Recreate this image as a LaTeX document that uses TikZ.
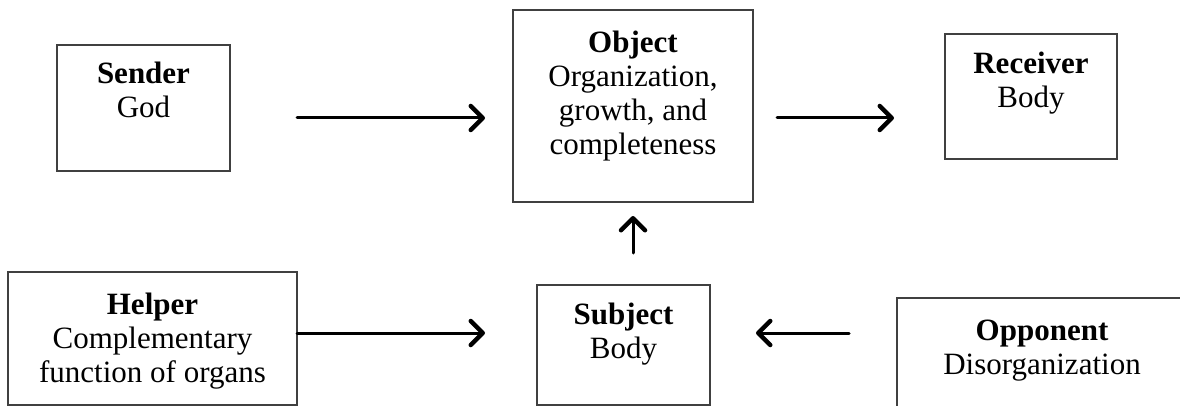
\documentclass[tikz,border=0pt]{standalone}
\usepackage{fontspec}
\setmainfont{Liberation Serif}
\usetikzlibrary{arrows.meta}
\tikzset{
  box/.style={draw=black!75, line width=1.4pt, inner sep=0pt, outer sep=0pt},
  txt/.style={anchor=north, inner sep=0pt, align=center, font=\fontsize{31}{34}\selectfont},
  arr/.style={draw=black, line width=3pt, line cap=round, -{Straight Barb[length=12pt,width=24pt,line width=4.5pt,round]}}
}
\begin{document}
\begin{tikzpicture}[x=1pt,y=-1pt]
\useasboundingbox (0,0) rectangle (1180,406);
\fill[white] (0,0) rectangle (1180,406);
\begin{scope}
\clip (0,0) rectangle (1180,406);
% boxes
\node[box, minimum width=173, minimum height=126] (sender) at (143.5,108) {};
\node[box, minimum width=240, minimum height=192] (object) at (633,106) {};
\node[box, minimum width=172, minimum height=125] (receiver) at (1031,96.5) {};
\node[box, minimum width=289, minimum height=133] (helper) at (152.5,338.5) {};
\node[box, minimum width=173, minimum height=120] (subject) at (623.5,345) {};
\node[box, minimum width=290, minimum height=140] (opponent) at (1042,368) {};
\end{scope}
% texts
\node[txt] (sendert) at ([yshift=-16.5pt]sender.north) {\textbf{Sender}\\God};
\node[txt] (objectt) at ([yshift=-21pt]object.north) {\textbf{Object}\\Organization,\\growth, and\\completeness};
\node[txt] (receivert) at ([yshift=-17.5pt]receiver.north) {\textbf{Receiver}\\Body};
\node[txt] (helpert) at ([yshift=-20.5pt]helper.north) {\textbf{Helper}\\Complementary\\function of organs};
\node[txt] (subjectt) at ([yshift=-17.5pt]subject.north) {\textbf{Subject}\\Body};
\node[txt] (opponentt) at ([yshift=-21.5pt]opponent.north) {\textbf{Opponent}\\Disorganization};
% connector ends
\coordinate (a1s) at (297,118);
\coordinate (a1e) at (485,118);
\coordinate (a2s) at (777,118);
\coordinate (a2e) at (894,118);
\coordinate (a3s) at (633,253);
\coordinate (a3e) at (633,216);
\coordinate (a4s) at (297,333);
\coordinate (a4e) at (485,333);
\coordinate (a5s) at (849,333);
\coordinate (a5e) at (756,333);
\draw[arr] (a1s) -- (a1e);
\draw[arr] (a2s) -- (a2e);
\draw[arr] (a3s) -- (a3e);
\draw[arr] (a4s) -- (a4e);
\draw[arr] (a5s) -- (a5e);
\end{tikzpicture}
\end{document}
